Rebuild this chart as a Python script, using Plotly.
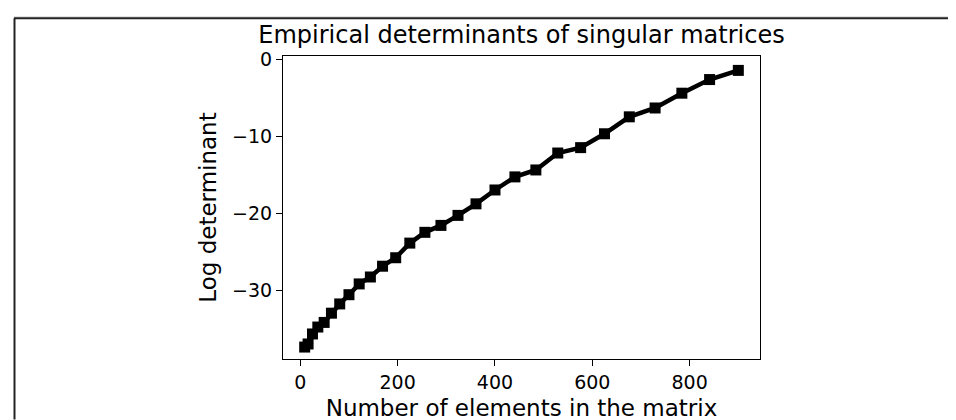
import plotly.graph_objects as go

# matrix sizes n*n for n = 3..30, and the measured log determinants
n_elements = [9, 16, 25, 36, 49, 64, 81, 100, 121, 144, 169, 196, 225, 256,
              289, 324, 361, 400, 441, 484, 529, 576, 625, 676, 729, 784, 841, 900]
log_det = [-37.4, -37.0, -35.7, -34.8, -34.2, -33.0, -31.8, -30.6, -29.2, -28.3,
           -26.9, -25.8, -23.9, -22.5, -21.6, -20.3, -18.8, -17.0, -15.3, -14.4,
           -12.2, -11.5, -9.7, -7.5, -6.35, -4.43, -2.66, -1.47]

x_ticks = [0, 200, 400, 600, 800]
y_ticks = [0, -10, -20, -30]

FONT = "DejaVu Sans"
W, H = 956, 420
ML, MR, MT, MB = 275, 204, 48, 62
PW, PH = W - ML - MR, H - MT - MB


def px_x(px):
    return (px - ML) / PW


def px_y(py):
    return (H - MB - py) / PH


fig = go.Figure()
fig.add_trace(go.Scatter(
    x=n_elements, y=log_det,
    mode="lines+markers",
    line=dict(color="black", width=4.5),
    marker=dict(symbol="square", size=11, color="black"),
    showlegend=False,
))

fig.update_layout(
    width=W, height=H,
    margin=dict(l=ML, r=MR, t=MT, b=MB),
    paper_bgcolor="white",
    plot_bgcolor="white",
    font=dict(family=FONT, size=19, color="black"),
    title=dict(
        text="Empirical determinants of singular matrices",
        font=dict(family=FONT, size=24, color="black"),
        x=0.5, xref="paper", xanchor="center",
        y=1, yref="paper", yanchor="bottom",
        pad=dict(b=13),
    ),
)

fig.update_xaxes(
    range=[-35.55, 944.55],
    tickvals=x_ticks,
    showgrid=False, zeroline=False,
    showline=True, linecolor="black", linewidth=1.2, mirror=True,
    ticks="outside", ticklen=6, tickwidth=1.2, tickcolor="black",
    title=dict(text="Number of elements in the matrix", standoff=7),
)
fig.update_yaxes(
    range=[-38.95, 0.4],
    tickvals=y_ticks,
    showgrid=False, zeroline=False,
    showline=True, linecolor="black", linewidth=1.2, mirror=True,
    ticks="outside", ticklen=6, tickwidth=1.2, tickcolor="black",
    title=dict(text="Log determinant", standoff=8),
)

# frame around the picture (top and left edges)
fig.add_shape(type="line", xref="paper", yref="paper",
              x0=px_x(6), x1=px_x(W), y0=px_y(8), y1=px_y(8),
              line=dict(color="#d0d0d0", width=1))
fig.add_shape(type="line", xref="paper", yref="paper",
              x0=px_x(6), x1=px_x(W), y0=px_y(9.5), y1=px_y(9.5),
              line=dict(color="#222222", width=2))
fig.add_shape(type="line", xref="paper", yref="paper",
              x0=px_x(6.5), x1=px_x(6.5), y0=px_y(9.5), y1=px_y(H),
              line=dict(color="#222222", width=2))

fig.write_html("out.html")
